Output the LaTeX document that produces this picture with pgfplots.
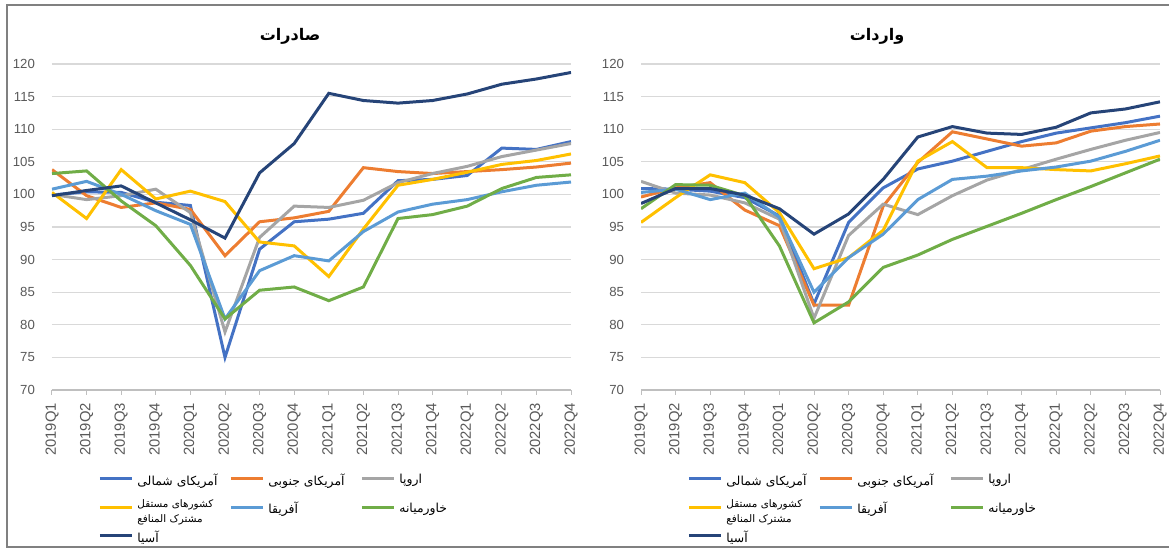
\documentclass[border=0pt]{standalone}
\usepackage{fontspec}
\setmainfont{Liberation Sans}
\newfontfamily\fa[Script=Arabic]{DejaVu Sans}
\TeXXeTstate=1
\usepackage{pgfplots}
\usepackage{pgfplotstable}
\pgfplotsset{compat=1.18}

\definecolor{cNA}{HTML}{4472C4}
\definecolor{cSA}{HTML}{ED7D31}
\definecolor{cEU}{HTML}{A5A5A5}
\definecolor{cCIS}{HTML}{FFC000}
\definecolor{cAF}{HTML}{5B9BD5}
\definecolor{cME}{HTML}{70AD47}
\definecolor{cAS}{HTML}{264478}
\definecolor{axgray}{HTML}{BFBFBF}
\definecolor{gridgray}{HTML}{D9D9D9}
\definecolor{lblgray}{HTML}{595959}
\definecolor{framegray}{HTML}{808080}

\pgfplotstableread{
x NA SA EU CIS AF ME AS
0 99.9 103.8 100.0 100.3 100.8 103.2 99.8
1 100.4 99.8 99.2 96.3 102.0 103.6 100.6
2 100.3 98.0 99.8 103.8 100.0 99.0 101.3
3 98.8 98.7 100.8 99.3 97.5 95.2 98.7
4 98.3 97.7 97.2 100.5 95.4 89.1 96.1
5 75.0 90.6 78.9 98.9 80.9 80.9 93.3
6 91.6 95.8 93.4 92.7 88.3 85.3 103.3
7 95.8 96.4 98.2 92.1 90.6 85.8 107.8
8 96.2 97.4 98.0 87.4 89.8 83.7 115.5
9 97.1 104.1 99.1 94.7 94.3 85.8 114.4
10 102.1 103.5 101.8 101.4 97.3 96.3 114.0
11 102.3 103.2 103.2 102.3 98.5 96.9 114.4
12 102.9 103.5 104.3 103.4 99.2 98.2 115.4
13 107.1 103.8 105.8 104.6 100.4 100.9 116.9
14 106.9 104.2 106.8 105.2 101.4 102.6 117.7
15 108.1 104.8 107.8 106.2 101.9 103.0 118.7
}\exports

\pgfplotstableread{
x NA SA EU CIS AF ME AS
0 100.9 99.6 102.0 95.7 100.3 97.8 98.6
1 100.8 101.0 100.2 99.5 100.8 101.5 100.9
2 100.5 101.8 99.9 103.0 99.2 101.4 100.9
3 99.5 97.6 98.7 101.8 100.2 99.8 99.9
4 96.7 95.2 96.2 97.2 96.5 92.1 97.8
5 83.2 83.0 81.0 88.6 85.0 80.3 93.9
6 95.7 83.0 93.7 90.3 90.3 83.5 97.0
7 101.0 98.2 98.5 94.5 93.9 88.8 102.3
8 103.9 104.9 96.9 105.1 99.2 90.7 108.8
9 105.1 109.6 99.8 108.1 102.3 93.1 110.4
10 106.6 108.5 102.2 104.1 102.8 95.1 109.4
11 108.1 107.4 103.8 104.1 103.6 97.1 109.2
12 109.4 107.9 105.4 103.8 104.2 99.2 110.3
13 110.2 109.7 106.9 103.6 105.1 101.2 112.5
14 111.0 110.4 108.3 104.7 106.6 103.3 113.1
15 112.0 110.8 109.5 105.9 108.3 105.4 114.2
}\imports

\newcommand{\fatext}[1]{{\fa\beginR #1\endR}}

\pgfplotsset{
  mychart/.style={
    scale only axis, width=259.5pt, height=163pt,
    xmin=0, xmax=15, ymin=70, ymax=120,
    xtick={0,...,15},
    xticklabels={2019Q1,2019Q2,2019Q3,2019Q4,2020Q1,2020Q2,2020Q3,2020Q4,2021Q1,2021Q2,2021Q3,2021Q4,2022Q1,2022Q2,2022Q3,2022Q4},
    ytick={70,75,...,120},
    axis x line*=bottom, axis y line*=left,
    y axis line style={draw=none}, ytick style={draw=none},
    x axis line style={draw=axgray, line width=0.6pt, -},
    xtick style={draw=axgray, line width=0.5pt},
    tick align=outside, major tick length=2.5pt,
    ymajorgrids, grid style={draw=gridgray, line width=0.6pt},
    yticklabel style={font=\fontsize{6.6}{7}\selectfont, text=lblgray, xshift=-2.5pt},
    xticklabel style={font=\fontsize{7.4}{8}\selectfont, text=lblgray, rotate=90, anchor=east, xshift=-0.5pt},
    /pgf/number format/assume math mode=true,
    every axis plot/.append style={line width=1.5pt, no markers},
    legend columns=3, legend cell align=left,
    legend image code/.code={\draw[##1, line width=1.5pt] (0pt,1.3pt) -- (16pt,1.3pt);},
    legend style={draw=none, fill=none, at={(0,0)}, anchor=north west,
      xshift=20pt, yshift=-37.5pt, font=\fontsize{6.2}{7.4}\selectfont,
      /tikz/every even column/.append style={column sep=0pt}, row sep=0.5pt},
  }
}

\newcommand{\allplots}[1]{%
  \addplot[cNA] table[x=x,y=NA] {#1}; \addlegendentry{\makebox[44pt][l]{\fatext{آمریکای شمالی}}}
  \addplot[cSA] table[x=x,y=SA] {#1}; \addlegendentry{\makebox[44pt][l]{\fatext{آمریکای جنوبی}}}
  \addplot[cEU] table[x=x,y=EU] {#1}; \addlegendentry{\makebox[44pt][l]{\fatext{اروپا}}}
  \addplot[cCIS] table[x=x,y=CIS] {#1}; \addlegendentry{\makebox[44pt][l]{\raisebox{2.2pt}{\begin{tabular}[c]{@{}l@{}}\fontsize{5.2}{7.2}\selectfont\fatext{کشورهای مستقل}\\\fontsize{5.2}{7.2}\selectfont\fatext{مشترک المنافع}\end{tabular}}}}
  \addplot[cAF] table[x=x,y=AF] {#1}; \addlegendentry{\makebox[44pt][l]{\fatext{آفریقا}}}
  \addplot[cME] table[x=x,y=ME] {#1}; \addlegendentry{\makebox[44pt][l]{\fatext{خاورمیانه}}}
  \addplot[cAS] table[x=x,y=AS] {#1}; \addlegendentry{\makebox[44pt][l]{\fatext{آسیا}}}
}

\begin{document}
\begin{tikzpicture}
\path[use as bounding box] (0pt,0pt) rectangle (584.5pt,274.5pt);
\draw[framegray, line width=0.8pt] (584.5pt,272pt) -- (3.5pt,272pt) -- (3.5pt,1pt) -- (584.5pt,1pt);

\begin{axis}[mychart, at={(26pt,79.5pt)}, anchor=south west]
\allplots{\exports}
\end{axis}

\begin{axis}[mychart, at={(320.5pt,79.5pt)}, anchor=south west]
\allplots{\imports}
\end{axis}

\node[font=\fontsize{8}{10}\selectfont\bfseries] at (145pt,256.5pt) {\fatext{صادرات}};
\node[font=\fontsize{8}{10}\selectfont\bfseries] at (438.5pt,256.5pt) {\fatext{واردات}};
\end{tikzpicture}
\end{document}
